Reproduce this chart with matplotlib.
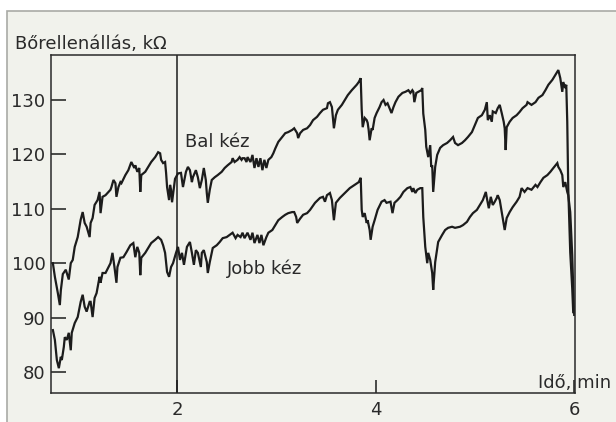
import matplotlib.pyplot as plt
from matplotlib.patches import Rectangle

# skin resistance of the left hand (Bal kéz), kOhm vs minutes
bal_t = [0.75, 0.77, 0.80, 0.82, 0.83, 0.85, 0.88, 0.91, 0.93, 0.95,
         0.97, 1.00, 1.03, 1.05, 1.07, 1.09, 1.12, 1.13, 1.15, 1.17,
         1.20, 1.22, 1.23, 1.25, 1.28, 1.33, 1.34, 1.36, 1.38, 1.39,
         1.41, 1.43, 1.44, 1.48, 1.51, 1.54, 1.57, 1.58, 1.60, 1.62,
         1.63, 1.64, 1.68, 1.71, 1.74, 1.78, 1.81, 1.83, 1.84, 1.86,
         1.88, 1.89, 1.90, 1.92, 1.93, 1.94, 1.95, 1.98, 2.01, 2.04,
         2.06, 2.09, 2.11, 2.13, 2.15, 2.16, 2.19, 2.21, 2.23, 2.25,
         2.27, 2.29, 2.30, 2.31, 2.33, 2.35, 2.38, 2.41, 2.45, 2.48,
         2.51, 2.55, 2.56, 2.58, 2.61, 2.63, 2.65, 2.66, 2.68, 2.70,
         2.71, 2.74, 2.76, 2.78, 2.80, 2.82, 2.84, 2.86, 2.88, 2.90,
         2.92, 2.95, 2.97, 2.99, 3.02, 3.06, 3.09, 3.12, 3.16, 3.18,
         3.21, 3.22, 3.24, 3.27, 3.31, 3.34, 3.37, 3.41, 3.44, 3.47,
         3.51, 3.52, 3.54, 3.56, 3.57, 3.58, 3.60, 3.62, 3.66, 3.69,
         3.72, 3.76, 3.79, 3.81, 3.83, 3.85, 3.86, 3.87, 3.89, 3.91,
         3.92, 3.93, 3.94, 3.96, 3.97, 3.99, 4.01, 4.04, 4.06, 4.08,
         4.10, 4.12, 4.16, 4.18, 4.20, 4.23, 4.27, 4.30, 4.33, 4.35,
         4.37, 4.38, 4.39, 4.41, 4.43, 4.46, 4.47, 4.48, 4.50, 4.51,
         4.53, 4.55, 4.56, 4.57, 4.58, 4.60, 4.62, 4.65, 4.68, 4.72,
         4.75, 4.78, 4.80, 4.83, 4.87, 4.90, 4.93, 4.97, 5.00, 5.03,
         5.07, 5.10, 5.12, 5.13, 5.15, 5.17, 5.18, 5.21, 5.23, 5.25,
         5.27, 5.29, 5.30, 5.31, 5.32, 5.35, 5.38, 5.42, 5.45, 5.48,
         5.52, 5.53, 5.57, 5.61, 5.64, 5.68, 5.71, 5.74, 5.78, 5.81,
         5.84, 5.86, 5.88, 5.89, 5.91, 5.92, 5.93, 5.94, 5.96, 5.98,
         5.99]
bal_kohm = [100.0, 97.5, 94.5, 92.3, 95.0, 98.0, 98.8, 97.0, 100.0, 100.6,
            103.0, 104.8, 108.0, 109.4, 107.4, 106.7, 104.8, 107.4, 108.3, 110.7,
            111.6, 113.1, 109.2, 112.2, 112.5, 113.5, 114.0, 115.3, 114.7, 112.2,
            114.0, 114.9, 114.7, 116.2, 117.1, 118.6, 117.5, 118.0, 116.8, 117.5,
            113.1, 116.2, 116.8, 117.7, 118.6, 119.5, 120.4, 120.2, 119.0, 118.4,
            118.6, 116.6, 114.0, 111.6, 114.4, 113.5, 111.2, 115.5, 116.5, 116.6,
            114.0, 116.8, 117.7, 117.1, 114.9, 115.8, 117.1, 115.8, 113.8, 115.3,
            117.5, 115.3, 112.9, 111.1, 113.5, 115.3, 115.8, 116.2, 116.8, 117.5,
            118.0, 118.6, 119.3, 118.6, 119.0, 119.5, 119.0, 119.3, 119.3, 118.6,
            119.5, 118.6, 119.9, 117.5, 119.3, 117.7, 119.3, 117.1, 119.0, 117.5,
            119.0, 119.5, 120.2, 121.1, 122.3, 123.2, 123.9, 124.1, 124.5, 124.8,
            123.9, 123.0, 123.9, 124.5, 124.8, 125.4, 126.3, 126.9, 127.6, 128.2,
            128.5, 129.4, 129.6, 128.7, 126.7, 124.8, 127.2, 128.2, 129.1, 130.0,
            130.9, 131.8, 132.4, 132.8, 133.3, 134.0, 128.2, 125.0, 126.7, 126.3,
            125.8, 124.5, 122.6, 124.8, 124.5, 126.7, 127.6, 128.7, 129.6, 130.0,
            129.1, 129.4, 127.6, 128.7, 129.6, 130.6, 131.3, 131.5, 131.8, 131.3,
            131.8, 131.5, 129.6, 131.3, 131.5, 131.8, 132.2, 127.5, 124.5, 121.4,
            119.5, 121.7, 117.7, 118.0, 113.1, 117.7, 119.9, 121.2, 121.7, 122.1,
            122.6, 123.2, 122.1, 121.7, 122.1, 122.6, 123.2, 124.1, 125.4, 126.7,
            127.2, 128.2, 129.6, 126.3, 127.2, 126.0, 127.9, 127.6, 128.5, 129.1,
            127.6, 126.0, 124.8, 120.8, 125.0, 126.0, 126.7, 127.2, 127.8, 128.5,
            129.1, 129.6, 129.1, 129.6, 130.4, 130.9, 131.8, 132.8, 133.7, 134.6,
            135.5, 134.0, 131.5, 133.3, 132.2, 132.8, 126.0, 113.8, 102.0, 95.4,
            91.0]

# skin resistance of the right hand (Jobb kéz)
jobb_t = [0.75, 0.77, 0.79, 0.81, 0.83, 0.84, 0.86, 0.87, 0.89, 0.91,
          0.93, 0.94, 0.97, 1.00, 1.03, 1.05, 1.07, 1.09, 1.12, 1.13,
          1.15, 1.17, 1.19, 1.22, 1.23, 1.25, 1.28, 1.33, 1.35, 1.37,
          1.39, 1.40, 1.43, 1.46, 1.49, 1.53, 1.56, 1.58, 1.60, 1.62,
          1.63, 1.64, 1.68, 1.71, 1.74, 1.78, 1.81, 1.84, 1.86, 1.88,
          1.90, 1.92, 1.94, 1.96, 1.99, 2.01, 2.03, 2.05, 2.07, 2.10,
          2.13, 2.15, 2.17, 2.19, 2.21, 2.24, 2.25, 2.27, 2.30, 2.31,
          2.33, 2.36, 2.40, 2.43, 2.46, 2.50, 2.53, 2.56, 2.59, 2.61,
          2.64, 2.66, 2.68, 2.71, 2.74, 2.76, 2.78, 2.81, 2.83, 2.85,
          2.87, 2.90, 2.92, 2.96, 2.99, 3.02, 3.06, 3.09, 3.12, 3.16,
          3.18, 3.20, 3.21, 3.24, 3.27, 3.31, 3.34, 3.39, 3.44, 3.47,
          3.49, 3.51, 3.54, 3.56, 3.57, 3.58, 3.60, 3.64, 3.69, 3.74,
          3.79, 3.83, 3.85, 3.86, 3.87, 3.89, 3.91, 3.92, 3.94, 3.95,
          3.97, 3.99, 4.02, 4.06, 4.09, 4.11, 4.15, 4.17, 4.19, 4.22,
          4.25, 4.28, 4.32, 4.35, 4.37, 4.38, 4.40, 4.42, 4.45, 4.47,
          4.48, 4.50, 4.52, 4.53, 4.55, 4.57, 4.58, 4.60, 4.63, 4.67,
          4.70, 4.73, 4.77, 4.80, 4.85, 4.88, 4.92, 4.95, 4.98, 5.02,
          5.05, 5.08, 5.11, 5.12, 5.14, 5.16, 5.18, 5.20, 5.22, 5.23,
          5.25, 5.27, 5.28, 5.30, 5.32, 5.35, 5.38, 5.42, 5.45, 5.47,
          5.50, 5.53, 5.57, 5.61, 5.63, 5.66, 5.69, 5.73, 5.76, 5.79,
          5.83, 5.84, 5.86, 5.88, 5.89, 5.91, 5.93, 5.94, 5.96, 5.98,
          5.99, 6.00]
jobb_kohm = [87.7, 85.9, 82.2, 80.7, 82.8, 82.2, 84.6, 86.4, 85.9, 87.2,
             84.0, 87.2, 89.0, 90.1, 92.9, 94.2, 92.0, 91.1, 92.9, 92.9,
             90.1, 93.6, 94.5, 97.5, 96.4, 98.2, 98.2, 100.0, 101.9, 99.3,
             96.4, 99.3, 101.0, 101.1, 102.0, 103.3, 103.7, 101.1, 103.0, 101.9,
             97.8, 101.0, 101.9, 102.8, 103.7, 104.3, 104.8, 104.3, 103.3, 101.9,
             98.4, 97.5, 99.3, 100.0, 101.9, 103.0, 100.6, 101.9, 99.7, 103.0,
             103.9, 101.9, 99.7, 102.4, 101.9, 99.3, 101.9, 102.4, 100.2, 98.2,
             100.2, 102.8, 103.3, 103.9, 104.6, 104.8, 105.2, 105.6, 104.6, 105.2,
             104.8, 105.6, 104.6, 105.6, 104.3, 105.6, 103.7, 105.2, 103.7, 105.2,
             103.3, 104.8, 105.6, 106.1, 107.0, 107.9, 108.5, 108.9, 109.2, 109.4,
             109.4, 108.5, 107.4, 108.2, 108.9, 109.2, 109.8, 111.1, 112.0, 112.2,
             111.3, 112.5, 112.9, 111.6, 109.8, 107.9, 111.1, 112.0, 112.9, 113.8,
             114.4, 114.9, 115.7, 109.8, 108.5, 109.2, 107.4, 107.9, 106.1, 104.3,
             106.7, 107.9, 109.8, 111.3, 111.6, 111.1, 111.3, 109.2, 111.1, 111.6,
             112.2, 113.1, 113.8, 114.0, 113.1, 113.8, 112.9, 113.5, 113.8, 113.8,
             108.5, 103.0, 100.0, 101.9, 100.6, 98.2, 95.1, 100.2, 103.9, 105.2,
             106.1, 106.5, 106.7, 106.5, 106.7, 107.0, 107.6, 108.5, 109.2, 109.8,
             110.7, 111.6, 113.1, 112.0, 110.1, 112.2, 110.7, 111.3, 112.0, 112.5,
             111.6, 109.4, 108.3, 106.1, 108.3, 109.4, 110.3, 111.3, 112.2, 113.8,
             113.1, 113.8, 113.5, 114.4, 114.0, 114.9, 115.7, 116.2, 116.8, 117.5,
             118.4, 117.7, 117.1, 116.2, 114.0, 114.9, 113.1, 112.5, 109.4, 101.5,
             95.4, 90.5]

y_ticks = [80, 90, 100, 110, 120, 130]
x_ticks = [2, 4, 6]

ink = '#1c1c1c'
txt = '#2a2a2a'
paper = '#f1f2ec'
fs = 13

plt.rcParams['font.family'] = ['DejaVu Sans']
plt.rcParams['font.size'] = fs

fig = plt.figure(figsize=(6.16, 4.22), dpi=100)
fig.patch.set_facecolor('white')
# page frame behind everything
fig.patches.append(Rectangle((7 / 616, -0.05), 1.0, 1 - 11 / 422 + 0.05,
                             transform=fig.transFigure, facecolor=paper,
                             edgecolor='#a9aaa6', linewidth=1.2, zorder=-10))

ax = fig.add_axes([51 / 616, 1 - 393 / 422, 524 / 616, 338 / 422])
ax.set_facecolor(paper)

ax.plot(bal_t, bal_kohm, color=ink, lw=1.6, solid_joinstyle='miter')
ax.plot(jobb_t, jobb_kohm, color=ink, lw=1.6, solid_joinstyle='miter')
ax.axvline(2, color=ink, lw=1.1)

ax.set_xlim(0.731, 6.008)
ax.set_ylim(76.14, 138.27)

ax.set_yticks(y_ticks)
ax.set_xticks(x_ticks)
ax.tick_params(axis='y', direction='in', length=11, width=1.1, pad=4,
               colors=ink, labelsize=fs, labelcolor=txt)
ax.tick_params(axis='x', direction='in', length=9.5, width=1.1, pad=6,
               colors=ink, labelsize=fs, labelcolor=txt)
for s in ax.spines.values():
    s.set_linewidth(1.1)
    s.set_color('#2a2a2a')

ax.text(2.08, 121.4, 'Bal kéz', color=txt, fontsize=fs, va='baseline')
ax.text(2.50, 98.0, 'Jobb kéz', color=txt, fontsize=fs, va='baseline')

fig.text(15 / 616, 1 - 49 / 422, 'Bőrellenállás, kΩ', color=txt,
         fontsize=fs, va='baseline')
fig.text(538 / 616, 1 - 388 / 422, 'Idő, min', color=txt,
         fontsize=fs, va='baseline')

fig.savefig('out.png', dpi=100)
